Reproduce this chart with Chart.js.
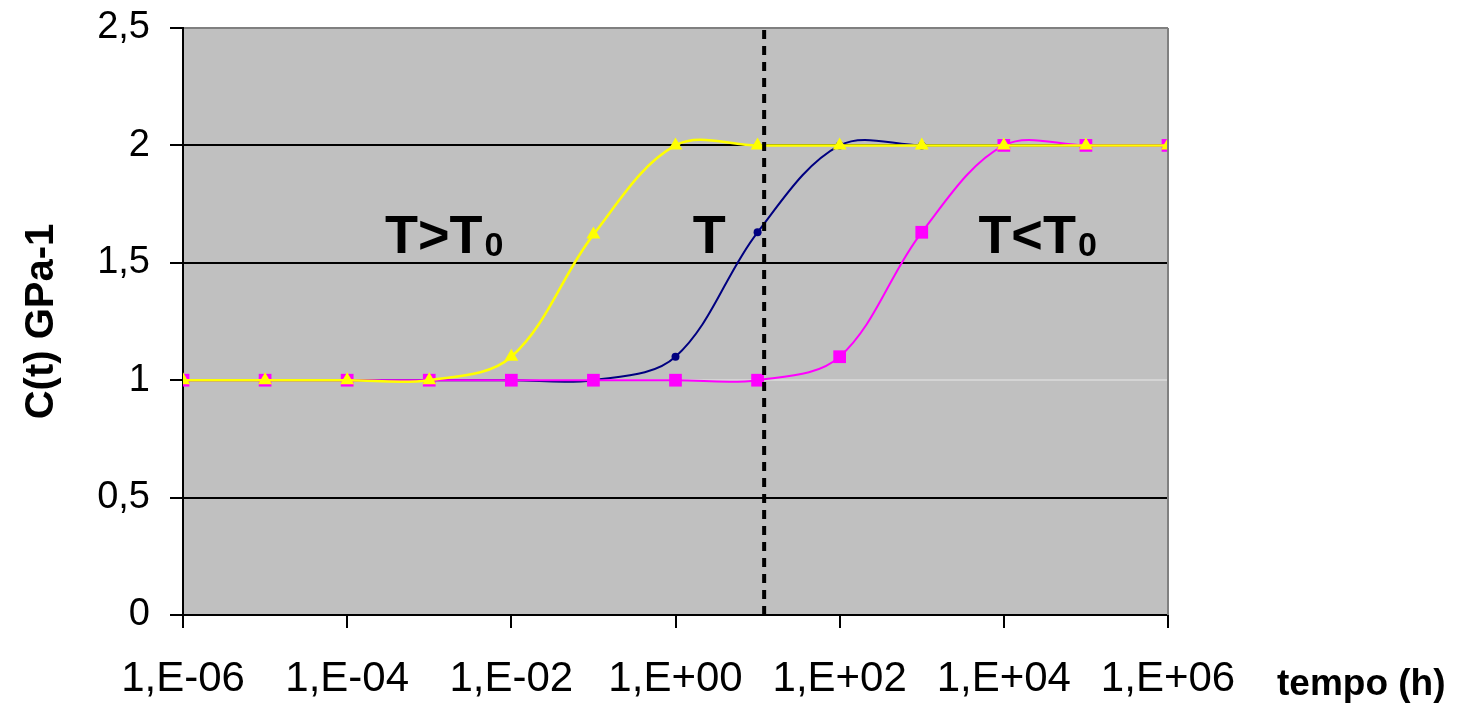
<!DOCTYPE html>
<html>
<head>
<meta charset="utf-8">
<script src="https://cdn.jsdelivr.net/npm/chart.js@4/dist/chart.umd.min.js"></script>
<style>
  html, body { margin: 0; padding: 0; background: #ffffff; }
  #chart { display: block; }
</style>
</head>
<body>
<canvas id="chart" width="1457" height="705"></canvas>
<script>
// Exponenten der Zeitachse (1,E-06 ... 1,E+06)
const decades = [-6, -5, -4, -3, -2, -1, 0, 1, 2, 3, 4, 5, 6];

// C(t) pro Kurve
const hotValues = [1, 1, 1, 1, 1.1, 1.62, 2, 2, 2, 2, 2, 2, 2];       // T>T0
const refValues = [1, 1, 1, 1, 1, 1, 1.1, 1.63, 2, 2, 2, 2, 2];       // T
const coldValues = [1, 1, 1, 1, 1, 1, 1, 1, 1.1, 1.63, 2, 2, 2];      // T<T0

const yTickValues = [0, 0.5, 1, 1.5, 2, 2.5];
const dashedAt = 1.08; // senkrechte Linie (log10 h)

const FONT = "'Liberation Sans', Arial, sans-serif";

function toPoints(values) {
    return decades.map((d, i) => ({ x: d, y: values[i] }));
}

function expLabel(v) {
    const sign = v < 0 ? "-" : "+";
    const n = Math.abs(v);
    return "1,E" + sign + (n < 10 ? "0" + n : n);
}

/*
Hintergrund, Rahmen und Beschriftungen im Diagramm.
 */
const decorPlugin = {
    id: "decor",
    beforeDraw(chart) {
        const a = chart.chartArea;
        const ctx = chart.ctx;
        ctx.save();
        ctx.fillStyle = "#c0c0c0";
        ctx.fillRect(a.left, a.top, a.right - a.left, a.bottom - a.top);
        ctx.restore();
    },
    afterDraw(chart) {
        const a = chart.chartArea;
        const ctx = chart.ctx;
        const xs = chart.scales.x;
        const ys = chart.scales.y;
        ctx.save();
        // rechter Rahmen
        ctx.strokeStyle = "#808080";
        ctx.lineWidth = 2;
        ctx.beginPath();
        ctx.moveTo(a.right, a.top);
        ctx.lineTo(a.right, a.bottom);
        ctx.stroke();

        // Kurvennamen
        const labels = [
            { text: "T>T", sub: "0", x: -3.54, y: 1.54 },
            { text: "T", sub: "", x: 0.21, y: 1.54 },
            { text: "T<T", sub: "0", x: 3.69, y: 1.54 }
        ];
        ctx.fillStyle = "#000";
        ctx.textBaseline = "alphabetic";
        ctx.textAlign = "left";
        labels.forEach(l => {
            const px = xs.getPixelForValue(l.x);
            const py = ys.getPixelForValue(l.y);
            ctx.font = "bold 54px " + FONT;
            ctx.fillText(l.text, px, py);
            if (l.sub) {
                const w = ctx.measureText(l.text).width;
                ctx.font = "bold 34px " + FONT;
                ctx.fillText(l.sub, px + w + 2, py + 3);
            }
        });

        // Achsentitel x
        ctx.font = "bold 37px " + FONT;
        ctx.fillText("tempo (h)", a.right + 109, a.bottom + 80);
        ctx.restore();
    }
};

const ctx = document.getElementById("chart");
const chart = new Chart(ctx, {
    type: "line",
    data: {
        datasets: [
            {
                label: "dashed",
                data: [{ x: dashedAt, y: 0 }, { x: dashedAt, y: 2.5 }],
                borderColor: "#000",
                borderWidth: 4,
                borderDash: [9, 7],
                pointRadius: 0,
                tension: 0,
                order: 0
            },
            {
                label: "T>T0",
                data: toPoints(hotValues),
                borderColor: "#ffff00",
                backgroundColor: "#ffff00",
                borderWidth: 2.5,
                pointStyle: "triangle",
                pointRadius: 8,
                pointBorderWidth: 0,
                tension: 0.35,
                order: 1
            },
            {
                label: "T<T0",
                data: toPoints(coldValues),
                borderColor: "#ff00ff",
                backgroundColor: "#ff00ff",
                borderWidth: 2,
                pointStyle: "rect",
                pointRadius: 9,
                pointBorderWidth: 0,
                tension: 0.35,
                order: 2
            },
            {
                label: "T",
                data: toPoints(refValues),
                borderColor: "#000080",
                backgroundColor: "#000080",
                borderWidth: 2,
                pointStyle: "circle",
                pointRadius: 4,
                pointBorderWidth: 0,
                tension: 0.35,
                order: 3
            }
        ]
    },
    options: {
        responsive: false,
        animation: false,
        layout: { padding: { top: 28, right: 289, left: 0, bottom: 0 } },
        plugins: {
            legend: { display: false },
            tooltip: { enabled: false }
        },
        scales: {
            x: {
                type: "linear",
                min: -6,
                max: 6,
                afterFit(scale) {
                    scale.height = 90;
                    scale.paddingLeft = 0;
                    scale.paddingRight = 0;
                },
                border: { color: "#000", width: 2 },
                grid: {
                    drawOnChartArea: false,
                    tickLength: 13,
                    color: "#000",
                    lineWidth: 2
                },
                ticks: {
                    stepSize: 2,
                    autoSkip: false,
                    maxRotation: 0,
                    padding: 26,
                    color: "#000",
                    font: { family: FONT, size: 42 },
                    callback: v => expLabel(v)
                }
            },
            y: {
                min: 0,
                max: 2.5,
                afterFit(scale) {
                    scale.width = 183;
                    scale.paddingTop = 0;
                    scale.paddingBottom = 0;
                },
                afterBuildTicks(scale) {
                    scale.ticks = yTickValues.map(v => ({ value: v }));
                },
                border: { color: "#000", width: 2 },
                grid: {
                    tickLength: 13,
                    tickColor: "#000",
                    lineWidth: 2,
                    color: c => {
                        const v = c.tick ? c.tick.value : null;
                        if (v === 2.5) return "#808080";
                        if (v === 1) return "#d4d4d4";
                        return "#000";
                    }
                },
                ticks: {
                    padding: 20,
                    color: "#000",
                    font: { family: FONT, size: 38 },
                    callback: v => String(v).replace(".", ",")
                },
                title: {
                    display: true,
                    text: "C(t) GPa-1",
                    color: "#000",
                    font: { family: FONT, size: 40, weight: "bold" },
                    padding: { top: 18, bottom: 0 }
                }
            }
        }
    },
    plugins: [decorPlugin]
});
</script>
</body>
</html>
